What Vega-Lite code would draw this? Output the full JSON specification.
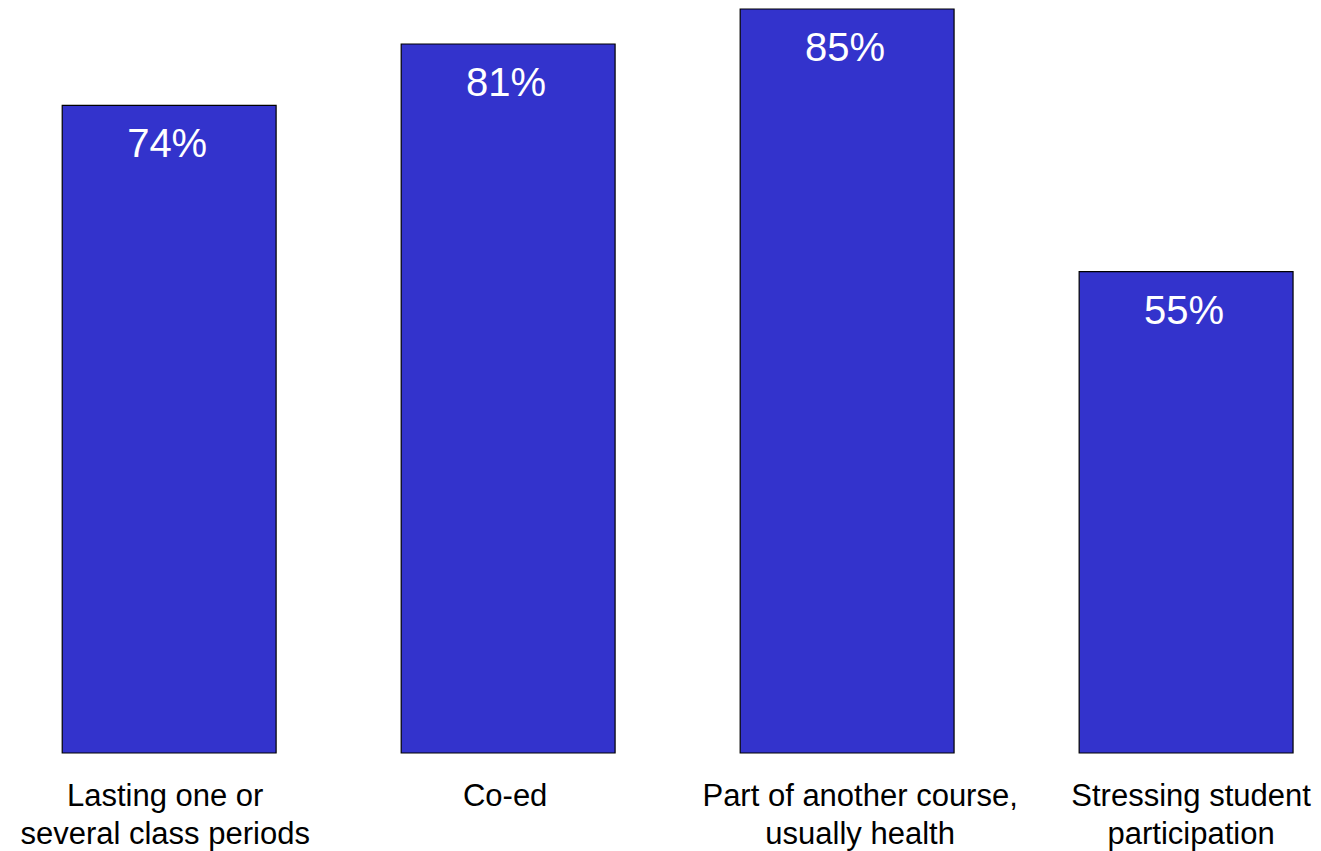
{
  "$schema": "https://vega.github.io/schema/vega-lite/v6.json",
  "width": 1321,
  "height": 744,
  "autosize": {"type": "none"},
  "padding": {"top": 9, "left": 0, "right": 0, "bottom": 98},
  "background": "white",
  "data": {"values": [
    {"category": "Lasting one or|several class periods", "value": 0.74},
    {"category": "Co-ed", "value": 0.81},
    {"category": "Part of another course,|usually health", "value": 0.85},
    {"category": "Stressing student|participation", "value": 0.55}
  ]},
  "encoding": {
    "x": {
      "field": "category", "type": "nominal", "sort": null,
      "scale": {"paddingInner": 0.369, "paddingOuter": 0.133, "align": 0.69},
      "axis": {
        "title": null, "ticks": false, "domain": false, "labelAngle": 0,
        "labelExpr": "split(datum.label, '|')",
        "labelFont": "Liberation Sans", "labelFontSize": 31, "labelColor": "black",
        "labelBaseline": "alphabetic", "labelPadding": 52, "labelLineHeight": 38,
        "labelLimit": 0,
        "labelOffset": {
          "condition": [
            {"test": "datum.value === 'Lasting one or|several class periods'", "value": -4},
            {"test": "datum.value === 'Co-ed'", "value": -3},
            {"test": "datum.value === 'Part of another course,|usually health'", "value": 13}
          ],
          "value": 5
        }
      }
    },
    "y": {
      "field": "value", "type": "quantitative",
      "scale": {"domain": [0, 0.85], "nice": false, "zero": true},
      "axis": null
    }
  },
  "layer": [
    {"mark": {"type": "bar", "color": "#3333CC", "stroke": "black", "strokeWidth": 1.2}},
    {
      "mark": {"type": "text", "color": "white", "font": "Liberation Sans", "fontSize": 40, "baseline": "alphabetic", "dy": 52, "dx": -2},
      "encoding": {"text": {"field": "value", "type": "quantitative", "format": ".0%"}}
    }
  ],
  "config": {"view": {"stroke": null}}
}
